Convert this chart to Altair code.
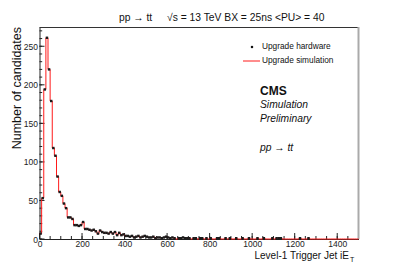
import altair as alt
import pandas as pd

bin_width = 10
x_max = 1500
y_max = 275

# counts per 10-unit bin of Level-1 jet iET
hw_counts = [
    7, 53, 194, 261, 220, 179, 118, 108, 81, 61,
    56, 46, 40, 28, 28, 26, 18, 18, 17, 18,
    22, 13, 13, 12, 11, 12, 10, 7, 11, 9,
    8, 8, 7, 9, 7, 9, 5, 8, 5, 6,
    4, 4, 3, 4, 2, 3, 4, 2, 3, 4,
    3, 2, 2, 3, 1, 2, 2, 1, 2, 3,
    2, 1, 2, 1, 0, 1, 1, 2, 1, 1,
    1, 0, 1, 1, 0, 1, 1, 0, 1, 0,
    1, 0, 0, 1, 1, 0, 0, 1, 0, 1,
    0, 0, 1, 0, 0, 1, 0, 0, 1, 0,
    0, 0, 1, 0, 0, 1, 0, 0, 0, 1,
    0, 1, 1, 1, 0, 0, 0, 0, 0, 0,
    0, 0, 1, 0, 0, 0, 1, 0, 0, 0,
    0, 0, 0, 0, 0, 0, 0, 0, 0, 0,
    0, 0, 0, 0, 0, 0, 0, 0, 0, 0,
]
sim_counts = list(hw_counts)

x_major = [0, 200, 400, 600, 800, 1000, 1200, 1400]
x_minor = list(range(0, 1500, 50))
y_major = [0, 50, 100, 150, 200, 250]
y_minor = list(range(0, 280, 10))

FONT = "Liberation Sans"
W, H = 319, 212

xs = alt.Scale(domain=[0, x_max], nice=False, zero=False)
ys = alt.Scale(domain=[0, y_max], nice=False)

edges = [i * bin_width for i in range(len(sim_counts))] + [x_max]
sim_df = pd.DataFrame({"x": edges, "n": sim_counts + [sim_counts[-1]]})
hw_df = pd.DataFrame({"x": [i * bin_width + bin_width / 2 for i in range(len(hw_counts))],
                      "n": hw_counts})
hw_df = hw_df[hw_df.n > 0]

base_axes = alt.Chart(pd.DataFrame({"x": [0], "n": [0]})).mark_point(opacity=0).encode(
    x=alt.X("x:Q", scale=xs, axis=alt.Axis(values=x_major, title=None, ticks=False, format="d",
            labelFontSize=8.5, labelFont=FONT, labelColor="#222", labelPadding=0,
            domainColor="#222", grid=False, labelFlush=False, labelOverlap=False)),
    y=alt.Y("n:Q", scale=ys, axis=alt.Axis(values=y_major, title=None, ticks=False, format="d",
            labelFontSize=8.5, labelFont=FONT, labelColor="#222", labelPadding=2,
            domainColor="#222", grid=False, labelFlush=False, labelOverlap=False)),
)

def yticks(vals, length):
    return alt.Chart(pd.DataFrame({"v": vals})).mark_rule(color="#222", strokeWidth=1).encode(
        y=alt.Y("v:Q", scale=ys), x=alt.value(0), x2=alt.value(length))

def xticks(vals, length):
    return alt.Chart(pd.DataFrame({"v": vals})).mark_rule(color="#222", strokeWidth=1).encode(
        x=alt.X("v:Q", scale=xs), y=alt.value(H), y2=alt.value(H - length))

one = alt.Data(values=[{"a": 1}])

def txt(s, x, y, size, align="left", weight="normal", style="normal", color="#111",
        angle=0, baseline="middle"):
    kw = dict(text=s, font=FONT, fontSize=size, align=align, baseline=baseline,
              fontWeight=weight, fontStyle=style, color=color)
    if angle:
        kw["angle"] = angle
    return alt.Chart(one).mark_text(**kw).encode(x=alt.value(x), y=alt.value(y))

frame_top = alt.Chart(one).mark_rule(color="#333", strokeWidth=1).encode(
    x=alt.value(0), x2=alt.value(W), y=alt.value(0.5))
frame_right = alt.Chart(one).mark_rule(color="#aaa", strokeWidth=2).encode(
    x=alt.value(W), y=alt.value(0), y2=alt.value(H))

sim_line = alt.Chart(sim_df).mark_line(color="#ff1a1a", strokeWidth=1,
                                       interpolate="step-after").encode(
    x=alt.X("x:Q", scale=xs), y=alt.Y("n:Q", scale=ys))
hw_pts = alt.Chart(hw_df).mark_square(color="#1a1a1a", size=6, opacity=1).encode(
    x=alt.X("x:Q", scale=xs), y=alt.Y("n:Q", scale=ys))

leg_dot = alt.Chart(one).mark_square(color="#111", size=5, opacity=1).encode(
    x=alt.value(212.5), y=alt.value(20))
leg_line = alt.Chart(one).mark_rule(color="#ff1a1a", strokeWidth=1).encode(
    x=alt.value(203.5), x2=alt.value(220.5), y=alt.value(34))

layers = [
    base_axes,
    yticks(y_minor, 2.7), yticks(y_major, 5),
    xticks(x_minor, 3), xticks(x_major, 6),
    frame_top, frame_right,
    sim_line, hw_pts,
    leg_dot, txt("Upgrade hardware", 222.5, 20, 8.3),
    leg_line, txt("Upgrade simulation", 222.5, 34, 8.3),
    txt("CMS", 220.5, 64, 12, weight="bold"),
    txt("Simulation", 220.5, 78, 10.3, style="italic"),
    txt("Preliminary", 220.5, 92, 10.3, style="italic"),
    txt("pp \u2192 tt", 220.5, 121, 10.3, style="italic"),
    txt("pp \u2192 tt", 79.5, -9, 10.3),
    txt("\u221as = 13 TeV  BX = 25ns  <PU> = 40", 127.5, -9, 10.3),
    txt("Number of candidates", -23, 0, 12.5, align="right", angle=270),
    txt("Level-1 Trigger Jet iE", 309.5, 229, 10, align="right"),
    txt("T", 310.5, 233, 7),
]

chart = alt.layer(*layers).properties(
    width=W, height=H,
    padding={"left": 31.5, "top": 19, "right": 32.5, "bottom": 28},
    autosize=alt.AutoSizeParams(type="none"),
    background="white",
).configure_view(stroke=None)

chart.save("out.html", embed_options={"renderer": "svg", "actions": False})
